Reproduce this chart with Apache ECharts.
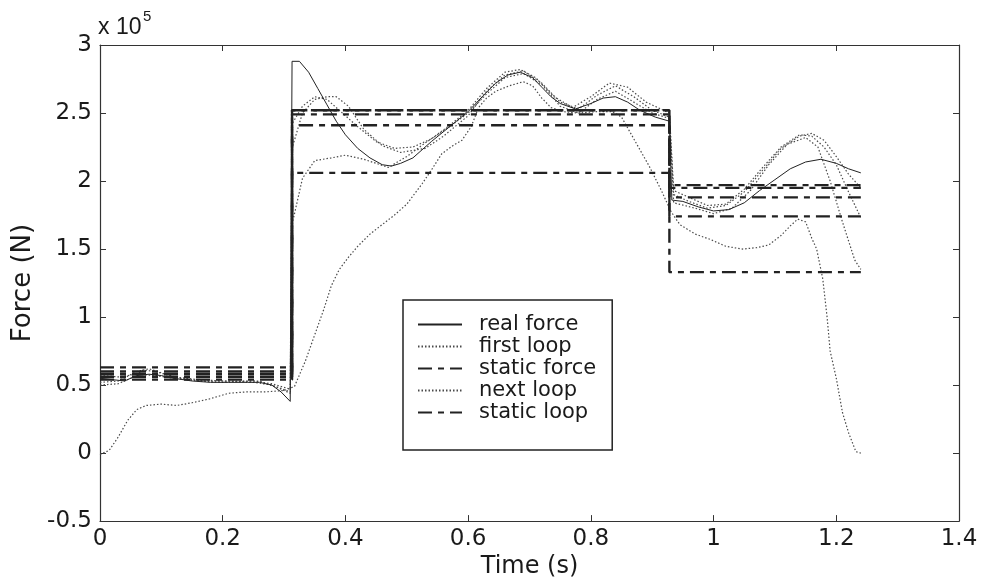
<!DOCTYPE html>
<html>
<head>
<meta charset="utf-8">
<script src="https://cdn.jsdelivr.net/npm/echarts@6/dist/echarts.min.js"></script>
<style>
  html, body { margin: 0; padding: 0; background: #fff; }
  #chart { width: 986px; height: 584px; }
</style>
</head>
<body>
<div id="chart"></div>
<script>
// Force history (units of 1e5 N) against time in seconds.

// Axis ticks
const xTicks = [0, 0.2, 0.4, 0.6, 0.8, 1, 1.2, 1.4];
const yTicks = [-0.5, 0, 0.5, 1, 1.5, 2, 2.5, 3];

// Measured force, [time, force]
const realForce = [
  [0, 0.55], [0.02, 0.54], [0.04, 0.53], [0.06, 0.57], [0.08, 0.58], [0.10, 0.57],
  [0.12, 0.55], [0.15, 0.53], [0.18, 0.52], [0.21, 0.52], [0.24, 0.52], [0.26, 0.52],
  [0.28, 0.50], [0.295, 0.45], [0.31, 0.38],
  [0.313, 2.88], [0.325, 2.88], [0.34, 2.80], [0.355, 2.68], [0.37, 2.56], [0.385, 2.44],
  [0.40, 2.34], [0.42, 2.24], [0.44, 2.17], [0.46, 2.12], [0.475, 2.11], [0.49, 2.13],
  [0.51, 2.17], [0.54, 2.29], [0.57, 2.40], [0.60, 2.51], [0.625, 2.63], [0.645, 2.72],
  [0.665, 2.78], [0.685, 2.80], [0.705, 2.76], [0.72, 2.69], [0.735, 2.62], [0.75, 2.57],
  [0.775, 2.53], [0.80, 2.57], [0.82, 2.61], [0.84, 2.62], [0.86, 2.58], [0.88, 2.52],
  [0.905, 2.47], [0.928, 2.44],
  [0.932, 1.86], [0.95, 1.85], [0.975, 1.81], [1.0, 1.78], [1.025, 1.79], [1.05, 1.84],
  [1.075, 1.93], [1.10, 2.01], [1.125, 2.09], [1.15, 2.14], [1.175, 2.16], [1.20, 2.13],
  [1.22, 2.09], [1.24, 2.06]
];

// First identification loop
const firstLoop = [
  [0, -0.01], [0.015, 0.02], [0.03, 0.12], [0.045, 0.24], [0.06, 0.32], [0.075, 0.35],
  [0.1, 0.36], [0.125, 0.35], [0.15, 0.37], [0.18, 0.40], [0.21, 0.44], [0.24, 0.45],
  [0.27, 0.45], [0.30, 0.46], [0.317, 0.49], [0.335, 0.68], [0.35, 0.87], [0.365, 1.06],
  [0.377, 1.23], [0.39, 1.35], [0.405, 1.44], [0.42, 1.52], [0.44, 1.61], [0.46, 1.68],
  [0.48, 1.75], [0.50, 1.83], [0.525, 1.98], [0.54, 2.08], [0.557, 2.20], [0.575, 2.26],
  [0.59, 2.30], [0.605, 2.40], [0.617, 2.54], [0.63, 2.61], [0.645, 2.66], [0.667, 2.70],
  [0.69, 2.73], [0.705, 2.70], [0.72, 2.61], [0.735, 2.54], [0.755, 2.51], [0.78, 2.50],
  [0.81, 2.51], [0.835, 2.51], [0.85, 2.47], [0.87, 2.31], [0.895, 2.11], [0.915, 1.93],
  [0.93, 1.78], [0.945, 1.68], [0.97, 1.61], [0.995, 1.57], [1.02, 1.52], [1.047, 1.50],
  [1.07, 1.51], [1.09, 1.53], [1.11, 1.60], [1.125, 1.67], [1.137, 1.72], [1.15, 1.70],
  [1.16, 1.58], [1.168, 1.50], [1.178, 1.28], [1.185, 1.0], [1.19, 0.75], [1.20, 0.55],
  [1.21, 0.30], [1.22, 0.15], [1.232, 0.01], [1.24, 0.0]
];

// Later identification loops
const nextLoopA = [
  [0, 0.52], [0.03, 0.53], [0.06, 0.60], [0.08, 0.62], [0.10, 0.59], [0.13, 0.55],
  [0.17, 0.53], [0.22, 0.53], [0.26, 0.53], [0.29, 0.48], [0.31, 0.44],
  [0.313, 2.24], [0.33, 2.50], [0.35, 2.60], [0.37, 2.62], [0.385, 2.62], [0.405, 2.55],
  [0.43, 2.38], [0.46, 2.26], [0.49, 2.21], [0.53, 2.24], [0.56, 2.33], [0.60, 2.48],
  [0.63, 2.66], [0.66, 2.78], [0.69, 2.81], [0.72, 2.72], [0.75, 2.58], [0.78, 2.53],
  [0.81, 2.63], [0.84, 2.70], [0.87, 2.62], [0.90, 2.52], [0.928, 2.47],
  [0.935, 1.90], [0.96, 1.85], [0.99, 1.80], [1.02, 1.82], [1.05, 1.92], [1.08, 2.08],
  [1.11, 2.24], [1.14, 2.33], [1.16, 2.35], [1.18, 2.30], [1.20, 2.18], [1.22, 2.05],
  [1.24, 1.95]
];
const nextLoopB = [
  [0, 0.50], [0.03, 0.51], [0.05, 0.55], [0.07, 0.61], [0.09, 0.60], [0.12, 0.56],
  [0.16, 0.54], [0.20, 0.53], [0.25, 0.52], [0.28, 0.50], [0.31, 0.45],
  [0.313, 1.68], [0.33, 2.02], [0.35, 2.15], [0.377, 2.17], [0.40, 2.19], [0.43, 2.16],
  [0.45, 2.13], [0.47, 2.10], [0.50, 2.18], [0.53, 2.28], [0.57, 2.40], [0.60, 2.50],
  [0.63, 2.64], [0.66, 2.76], [0.69, 2.79], [0.72, 2.71], [0.75, 2.55], [0.78, 2.50],
  [0.81, 2.60], [0.84, 2.66], [0.87, 2.58], [0.90, 2.50], [0.928, 2.46],
  [0.935, 1.84], [0.97, 1.80], [1.00, 1.76], [1.03, 1.80], [1.06, 1.93], [1.09, 2.12],
  [1.12, 2.27], [1.15, 2.32], [1.17, 2.25], [1.19, 2.00], [1.21, 1.70], [1.23, 1.42],
  [1.24, 1.35]
];
const nextLoopC = [
  [0, 0.57], [0.03, 0.56], [0.06, 0.58], [0.09, 0.57], [0.12, 0.55], [0.16, 0.53],
  [0.20, 0.52], [0.25, 0.53], [0.28, 0.51], [0.31, 0.47],
  [0.313, 2.42], [0.33, 2.55], [0.35, 2.62], [0.37, 2.60], [0.39, 2.52], [0.42, 2.40],
  [0.45, 2.29], [0.48, 2.24], [0.51, 2.25], [0.54, 2.31], [0.57, 2.41], [0.60, 2.52],
  [0.63, 2.68], [0.66, 2.80], [0.685, 2.82], [0.71, 2.76], [0.74, 2.62], [0.77, 2.54],
  [0.80, 2.62], [0.83, 2.72], [0.86, 2.69], [0.89, 2.58], [0.928, 2.50],
  [0.935, 1.93], [0.96, 1.88], [0.99, 1.82], [1.02, 1.83], [1.05, 1.94], [1.08, 2.10],
  [1.11, 2.25], [1.14, 2.34], [1.16, 2.33], [1.18, 2.25], [1.20, 2.12], [1.22, 1.92],
  [1.24, 1.73]
];

// Piecewise-constant static estimates: segment edges and one level per segment
const stepTimes = [0, 0.313, 0.928, 1.24];
const staticForce = [0.56, 2.52, 1.97];
const staticLoopA = [0.63, 2.52, 1.95];
const staticLoopB = [0.60, 2.49, 1.88];
const staticLoopC = [0.58, 2.41, 1.74];
const staticLoopD = [0.54, 2.06, 1.33];

function stepData(levels) {
  const pts = [];
  levels.forEach((v, i) => {
    pts.push([stepTimes[i], v]);
    pts.push([stepTimes[i + 1], v]);
  });
  return pts;
}

const FONT = 'DejaVu Sans';
const INK = '#1a1a1a';

const dottedStyle = { color: '#4a4a4a', width: 1.2, type: [1.5, 2] };
const solidStyle = { color: '#222', width: 1 };
const dashStyle = { color: '#222', width: 2.4, type: [14, 6, 6, 6] };

function line(name, data, lineStyle, z) {
  return {
    name, type: 'line', data, symbol: 'none', showSymbol: false,
    lineStyle, itemStyle: { color: lineStyle.color }, z: z || 2,
    xAxisIndex: 0, yAxisIndex: 0, silent: true
  };
}

const chart = echarts.init(document.getElementById('chart'), null, { renderer: 'canvas' });

const baseAxis = {
  axisLine: { show: true, onZero: false, lineStyle: { color: '#333', width: 1.2 } },
  axisTick: { show: true, inside: true, length: 6, lineStyle: { color: '#333' } },
  splitLine: { show: false }
};

chart.setOption({
  animation: false,
  backgroundColor: '#fff',
  grid: { left: 100, right: 27, top: 45, bottom: 54 },
  xAxis: [
    Object.assign({}, baseAxis, {
      type: 'value', min: xTicks[0], max: xTicks[xTicks.length - 1], interval: 0.2,
      position: 'bottom',
      axisLabel: { fontFamily: FONT, fontSize: 23, color: INK, margin: 6 },
      name: 'Time (s)', nameLocation: 'middle', nameGap: 27,
      nameTextStyle: { fontFamily: FONT, fontSize: 24, color: INK }
    }),
    Object.assign({}, baseAxis, {
      type: 'value', min: xTicks[0], max: xTicks[xTicks.length - 1], interval: 0.2,
      position: 'top', axisLabel: { show: false }
    })
  ],
  yAxis: [
    Object.assign({}, baseAxis, {
      type: 'value', min: yTicks[0], max: yTicks[yTicks.length - 1], interval: 0.5,
      position: 'left',
      axisLabel: { fontFamily: FONT, fontSize: 23, color: INK, margin: 8 },
      name: 'Force (N)', nameLocation: 'middle', nameGap: 62,
      nameTextStyle: { fontFamily: FONT, fontSize: 26, color: INK }
    }),
    Object.assign({}, baseAxis, {
      type: 'value', min: yTicks[0], max: yTicks[yTicks.length - 1], interval: 0.5,
      position: 'right', axisLabel: { show: false }
    })
  ],
  legend: {
    data: ['real force', 'first loop', 'static force', 'next loop', 'static loop'],
    orient: 'vertical', left: 403, top: 300,
    itemWidth: 44, itemHeight: 12, itemGap: 1,
    padding: [14, 16, 27, 14],
    borderColor: '#222', borderWidth: 1.5, backgroundColor: '#fff',
    itemStyle: { opacity: 0 },
    textStyle: { fontFamily: FONT, fontSize: 21, color: INK, lineHeight: 21, padding: [0, 0, 0, 12] }
  },
  graphic: [
    {
      type: 'text', left: 98, top: 16,
      style: { text: 'x 10', font: '23px "Liberation Sans"', fill: INK }
    },
    {
      type: 'text', left: 143, top: 9,
      style: { text: '5', font: '15px "Liberation Sans"', fill: INK }
    }
  ],
  series: [
    line('real force', realForce, solidStyle, 5),
    line('first loop', firstLoop, dottedStyle, 3),
    line('static force', stepData(staticForce), dashStyle, 4),
    line('next loop', nextLoopA, dottedStyle, 3),
    line('static loop', stepData(staticLoopA), dashStyle, 4),
    line('next loop', nextLoopB, dottedStyle, 3),
    line('static loop', stepData(staticLoopB), dashStyle, 4),
    line('next loop', nextLoopC, dottedStyle, 3),
    line('static loop', stepData(staticLoopC), dashStyle, 4),
    line('static loop', stepData(staticLoopD), dashStyle, 4)
  ]
});
</script>
</body>
</html>
